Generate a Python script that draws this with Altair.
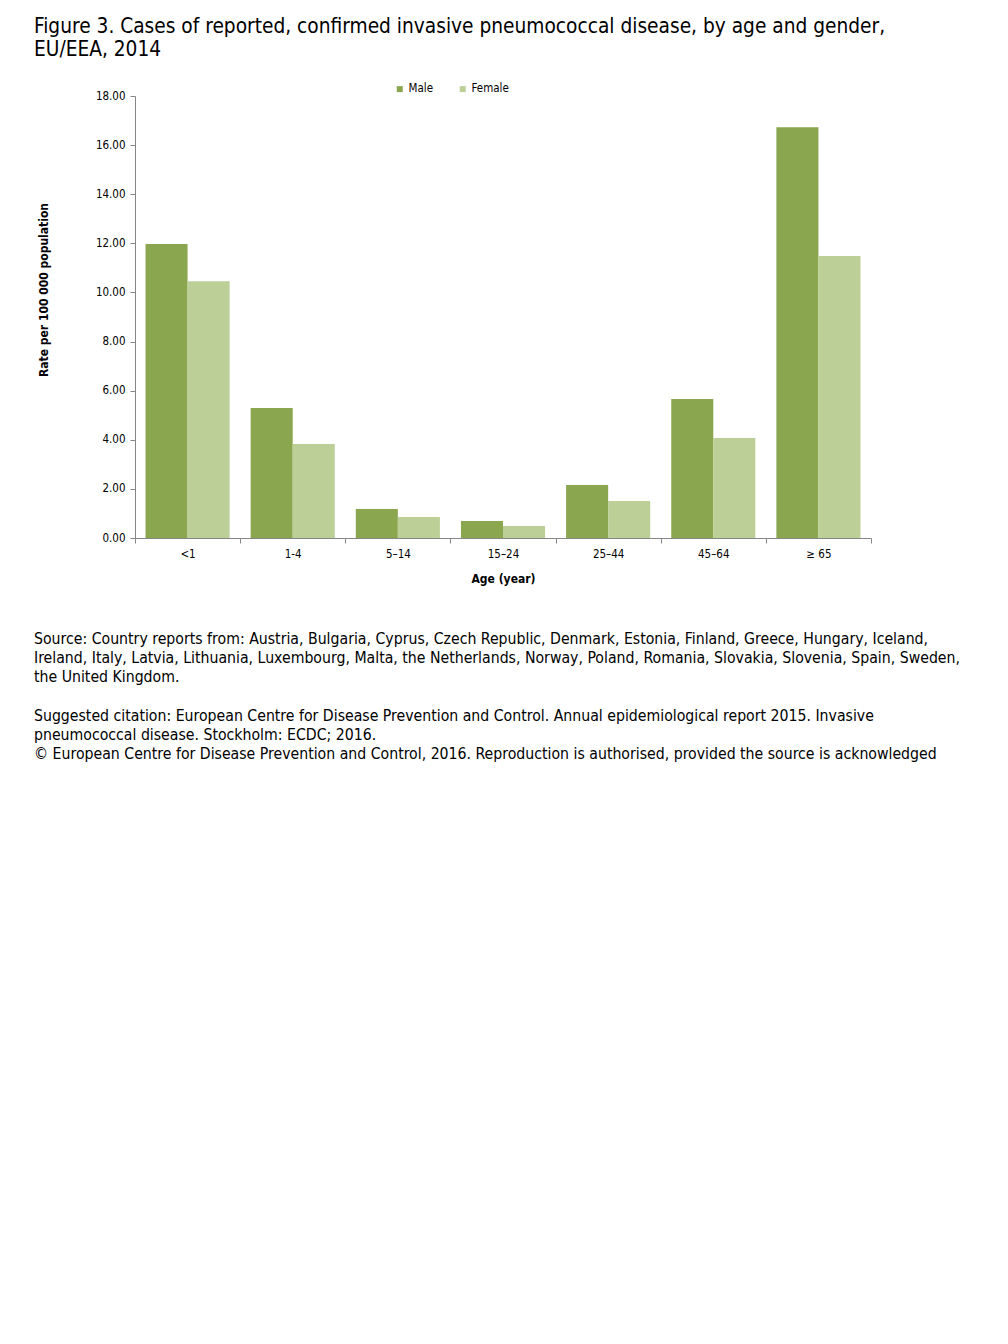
import altair as alt
import pandas as pd

ages = ["<1", "1-4", "5–14", "15–24", "25–44", "45–64", "≥ 65"]
male = [11.97, 5.29, 1.18, 0.69, 2.16, 5.66, 16.73]
female = [10.46, 3.83, 0.86, 0.49, 1.51, 4.07, 11.48]
genders = ["Male", "Female"]
colors = ["#8AA64F", "#BBCF97"]
y_ticks = [0, 2, 4, 6, 8, 10, 12, 14, 16, 18]

title_lines = [
    "Figure 3. Cases of reported, confirmed invasive pneumococcal disease, by age and gender,",
    "EU/EEA, 2014",
]
source_lines = [
    "Source: Country reports from: Austria, Bulgaria, Cyprus, Czech Republic, Denmark, Estonia, Finland, Greece, Hungary, Iceland,",
    "Ireland, Italy, Latvia, Lithuania, Luxembourg, Malta, the Netherlands, Norway, Poland, Romania, Slovakia, Slovenia, Spain, Sweden,",
    "the United Kingdom.",
]
citation_lines = [
    "Suggested citation: European Centre for Disease Prevention and Control. Annual epidemiological report 2015. Invasive",
    "pneumococcal disease. Stockholm: ECDC; 2016.",
    "© European Centre for Disease Prevention and Control, 2016. Reproduction is authorised, provided the source is acknowledged",
]
y_title = "Rate per 100 000 population"
x_title = "Age (year)"

FONT = "DejaVu Sans Condensed, Liberation Sans, sans-serif"

df = pd.DataFrame({
    "age": ages * 2,
    "gender": [genders[0]] * len(ages) + [genders[1]] * len(ages),
    "rate": male + female,
})

bars = alt.Chart(df).mark_bar().encode(
    x=alt.X("age:N", sort=ages,
            scale=alt.Scale(paddingInner=0, paddingOuter=0),
            axis=alt.Axis(title=x_title, labelAngle=0, tickBand="extent",
                          tickSize=5, labelPadding=5, titlePadding=14,
                          titleFontWeight="bold", titleFontSize=12,
                          labelFontSize=11.5)),
    xOffset=alt.XOffset("gender:N", sort=genders,
                        scale=alt.Scale(paddingInner=0, paddingOuter=0.25)),
    y=alt.Y("rate:Q", scale=alt.Scale(domain=[0, 18], nice=False),
            axis=alt.Axis(values=y_ticks, format=".2f", grid=False, title=None,
                          tickSize=5, labelPadding=5, labelFontSize=11.5)),
    color=alt.Color("gender:N", sort=genders,
                    scale=alt.Scale(domain=genders, range=colors),
                    legend=alt.Legend(title=None, orient="none", direction="horizontal",
                                      legendX=259, legendY=-13, symbolType="square",
                                      symbolSize=36, symbolStrokeWidth=0,
                                      labelFontSize=11.5, labelOffset=3,
                                      columnPadding=23, labelFont=FONT)),
)

one = alt.Data(values=[{"k": 1}])

title_txt = alt.Chart(one).mark_text(
    text=title_lines, align="left", baseline="top", fontSize=20.7, font=FONT,
    lineHeight=23, color="#000000"
).encode(x=alt.value(-101), y=alt.value(-79))

source_txt = alt.Chart(one).mark_text(
    text=source_lines, align="left", baseline="top", fontSize=15.7, font=FONT,
    lineHeight=19, color="#000000"
).encode(x=alt.value(-101), y=alt.value(536))

cite_txt = alt.Chart(one).mark_text(
    text=citation_lines, align="left", baseline="top", fontSize=15.7, font=FONT,
    lineHeight=19, color="#000000"
).encode(x=alt.value(-101), y=alt.value(613))

ytitle_txt = alt.Chart(one).mark_text(
    text=y_title, align="center", baseline="middle", fontSize=12, font=FONT,
    fontWeight="bold", angle=270, color="#000000"
).encode(x=alt.value(-91), y=alt.value(194))

chart = alt.layer(bars, title_txt, source_txt, cite_txt, ytitle_txt).properties(
    width=736, height=442,
    autosize=alt.AutoSizeParams(type="none"),
    padding={"left": 127, "top": 88, "right": 129, "bottom": 700},
).configure_view(stroke=None).configure_axis(
    domainColor="#868686", tickColor="#868686", labelColor="#000000",
    titleColor="#000000", labelFont=FONT, titleFont=FONT
).configure_legend(labelColor="#000000")

chart.save("out.html", embed_options={"renderer": "svg", "actions": False})
